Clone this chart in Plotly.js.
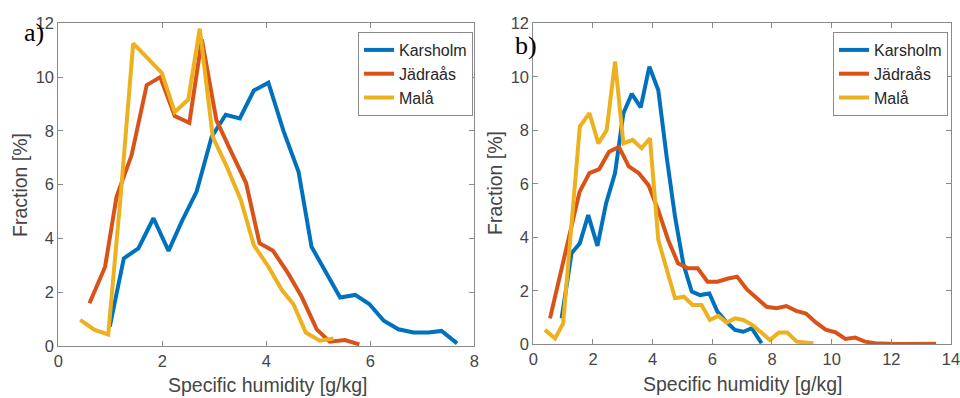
<!DOCTYPE html>
<html>
<head>
<meta charset="utf-8">
<script src="https://cdn.plot.ly/plotly-3.0.1.min.js"></script>
<style>html,body{margin:0;padding:0;background:#fff;}#chart{width:960px;height:398px;}</style>
</head>
<body>
<div id="chart"></div>
<script>
// ---- Panel a) ----
const aKarX = [0.99,1.26,1.54,1.83,2.12,2.38,2.66,2.95,3.22,3.49,3.76,4.04,4.33,4.62,4.87,5.15,5.42,5.71,5.98,6.26,6.54,6.83,7.12,7.37,7.67];
const aKarY = [0.72,3.26,3.63,4.75,3.54,4.65,5.74,7.78,8.6,8.46,9.5,9.79,8.0,6.48,3.69,2.7,1.8,1.9,1.56,0.94,0.62,0.5,0.5,0.56,0.1];
const aJadX = [0.6,0.9,1.12,1.41,1.7,1.96,2.24,2.52,2.76,3.04,3.33,3.61,3.87,4.13,4.42,4.68,4.97,5.22,5.51,5.79];
const aJadY = [1.59,2.95,5.55,7.1,9.7,10.0,8.55,8.3,11.4,8.4,7.2,6.07,3.82,3.54,2.7,1.83,0.62,0.16,0.22,0.06];
const aMalX = [0.42,0.7,0.96,1.2,1.44,1.72,1.99,2.24,2.5,2.72,2.97,3.24,3.51,3.76,4.04,4.3,4.52,4.76,5.03,5.29];
const aMalY = [0.97,0.6,0.43,5.6,11.25,10.7,10.16,8.7,9.17,11.8,7.78,6.67,5.43,3.75,2.95,2.08,1.56,0.5,0.2,0.28];

// ---- Panel b) ----
const bKarX = [0.95,1.28,1.56,1.84,2.15,2.44,2.74,3.02,3.3,3.6,3.89,4.19,4.47,4.75,5.03,5.31,5.59,5.9,6.17,6.46,6.76,7.04,7.32,7.65];
const bKarY = [0.97,3.4,3.78,4.83,3.68,5.27,6.4,8.64,9.36,8.86,10.38,9.5,7.0,4.77,3.0,1.97,1.84,1.9,1.22,0.85,0.54,0.47,0.6,0.04];
const bJadX = [0.56,0.89,1.22,1.55,1.88,2.21,2.54,2.87,3.2,3.53,3.86,4.19,4.52,4.85,5.18,5.51,5.84,6.17,6.5,6.83,7.16,7.49,7.82,8.15,8.48,8.81,9.14,9.47,9.8,10.13,10.46,10.79,11.12,11.45,11.78,12.11,12.44,12.77,13.1,13.5];
const bJadY = [0.97,2.5,4.15,5.7,6.4,6.55,7.2,7.38,6.65,6.4,5.95,5.0,3.9,3.03,2.84,2.84,2.34,2.34,2.45,2.53,2.05,1.72,1.4,1.35,1.43,1.25,1.15,0.82,0.55,0.45,0.2,0.25,0.1,0.04,0.01,0.01,0.01,0.01,0.01,0.02];
const bMalX = [0.39,0.73,1.0,1.28,1.56,1.88,2.18,2.46,2.74,3.02,3.33,3.63,3.91,4.19,4.47,4.75,5.05,5.34,5.64,5.92,6.2,6.48,6.76,7.04,7.35,7.65,7.93,8.23,8.51,8.83,9.1,9.39];
const bMalY = [0.54,0.22,0.78,4.5,8.14,8.64,7.51,8.01,10.57,7.51,7.64,7.33,7.7,3.9,2.78,1.72,1.78,1.47,1.47,0.91,1.06,0.81,0.97,0.91,0.72,0.41,0.16,0.44,0.44,0.1,0.06,0.04];

const names = ["Karsholm","Jädraås","Malå"];
const colors = ["#0072BD","#D95319","#EDB120"];
const panelLabels = ["a)","b)"];
const xTitle = "Specific humidity [g/kg]";
const yTitle = "Fraction [%]";

function tr(x,y,i,xa,ya,leg){
  return {x:x,y:y,type:"scatter",mode:"lines",name:names[i],
    line:{color:colors[i],width:4},xaxis:xa,yaxis:ya,legend:leg};
}
const data = [
  tr(aKarX,aKarY,0,"x","y","legend"),
  tr(aJadX,aJadY,1,"x","y","legend"),
  tr(aMalX,aMalY,2,"x","y","legend"),
  tr(bKarX,bKarY,0,"x2","y2","legend2"),
  tr(bJadX,bJadY,1,"x2","y2","legend2"),
  tr(bMalX,bMalY,2,"x2","y2","legend2")
];

const SANS = "Liberation Sans, Arial, sans-serif";
const axCommon = {showline:true,linecolor:"#8a8a8a",linewidth:1,mirror:"allticks",ticks:"inside",ticklen:5,tickcolor:"#8a8a8a",
  showgrid:false,zeroline:false,ticklabeloverflow:"allow",tickfont:{family:SANS,size:16.5,color:"#454545"},fixedrange:true};

const legCommon = {bgcolor:"#fff",bordercolor:"#8a8a8a",borderwidth:1,xanchor:"left",yanchor:"top",
  font:{family:SANS,size:16,color:"#262626"},tracegroupgap:0,itemwidth:30};

const layout = {
  width:960,height:398,margin:{l:0,r:0,t:0,b:0},paper_bgcolor:"#fff",plot_bgcolor:"#fff",
  showlegend:true,
  xaxis:Object.assign({},axCommon,{domain:[58.3/960,474.3/960],range:[0,8],dtick:2,anchor:"y"}),
  yaxis:Object.assign({},axCommon,{domain:[(398-346)/398,(398-23.3)/398],range:[0,12],dtick:2,anchor:"x"}),
  xaxis2:Object.assign({},axCommon,{domain:[533.3/960,951/960],range:[0,14],dtick:2,anchor:"y2"}),
  yaxis2:Object.assign({},axCommon,{domain:[(398-344.3)/398,(398-23.3)/398],range:[0,12],dtick:2,anchor:"x2"}),
  legend:Object.assign({},legCommon,{x:358/960,y:1-32/398}),
  legend2:Object.assign({},legCommon,{x:833/960,y:1-32/398}),
  annotations:[
    {text:panelLabels[0],xref:"paper",yref:"paper",x:22/960,y:1-32/398,xanchor:"left",yanchor:"middle",showarrow:false,
     font:{family:"Liberation Serif, Times New Roman, serif",size:26,color:"#000"}},
    {text:panelLabels[1],xref:"paper",yref:"paper",x:513/960,y:1-46/398,xanchor:"left",yanchor:"middle",showarrow:false,
     font:{family:"Liberation Serif, Times New Roman, serif",size:26,color:"#000"}},
    {text:xTitle,xref:"paper",yref:"paper",x:267/960,y:1-385/398,xanchor:"center",yanchor:"middle",showarrow:false,
     font:{family:SANS,size:19.5,color:"#454545"}},
    {text:xTitle,xref:"paper",yref:"paper",x:742/960,y:1-384/398,xanchor:"center",yanchor:"middle",showarrow:false,
     font:{family:SANS,size:19.5,color:"#454545"}},
    {text:yTitle,xref:"paper",yref:"paper",x:20/960,y:1-185/398,xanchor:"center",yanchor:"middle",textangle:-90,showarrow:false,
     font:{family:SANS,size:19.5,color:"#454545"}},
    {text:yTitle,xref:"paper",yref:"paper",x:495/960,y:1-183/398,xanchor:"center",yanchor:"middle",textangle:-90,showarrow:false,
     font:{family:SANS,size:19.5,color:"#454545"}}
  ]
};
Plotly.newPlot("chart",data,layout,{displayModeBar:false,staticPlot:true});
</script>
</body>
</html>
